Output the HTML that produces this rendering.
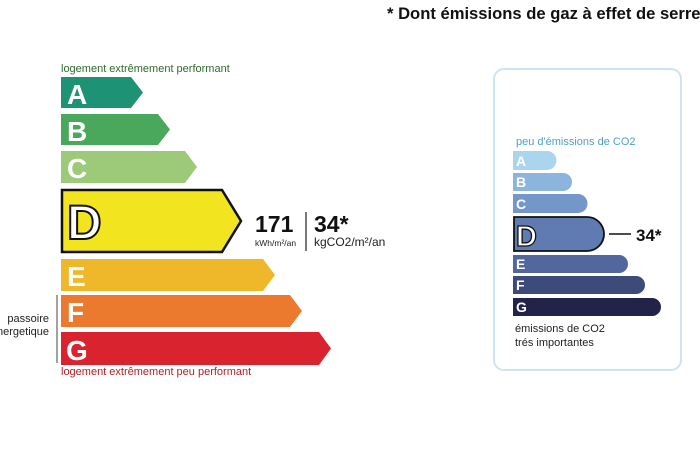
<!DOCTYPE html>
<html><head><meta charset="utf-8"><style>
html,body{margin:0;padding:0;background:#fff;overflow:hidden;}
svg{display:block;font-family:"Liberation Sans",sans-serif;}
</style></head><body>
<svg width="700" height="450" viewBox="0 0 700 450" xmlns="http://www.w3.org/2000/svg">
<text x="387" y="19" font-size="16.6" font-weight="bold" fill="#111">* Dont émissions de gaz à effet de serre</text>

<text x="61" y="72" font-size="11" fill="#2e6b2e">logement extrêmement performant</text>
<polygon points="61,77 131,77 143,92.5 131,108 61,108" fill="#1e9274"/>
<polygon points="61,114 158,114 170,129.5 158,145 61,145" fill="#4aa85c"/>
<polygon points="61,151 185,151 197,167 185,183 61,183" fill="#9cca78"/>
<polygon points="62,190 222,190 241,221 222,252 62,252" fill="#f2e51f" stroke="#111" stroke-width="2.5"/>
<polygon points="61,259 263,259 275,275 263,291 61,291" fill="#efb82a"/>
<polygon points="61,295 290,295 302,311 290,327 61,327" fill="#eb7a2e"/>
<polygon points="61,332 319,332 331,348.5 319,365 61,365" fill="#d9232e"/>
<g font-weight="bold" fill="#fff" font-size="28">
<text x="67" y="104">A</text><text x="67" y="141">B</text><text x="67" y="178">C</text>
<text x="67" y="286">E</text><text x="67" y="322">F</text><text x="66" y="360">G</text>
</g>
<text x="67" y="239" font-size="48" font-weight="bold" fill="#fff" stroke="#111" stroke-width="2">D</text>
<text x="61" y="375" font-size="11" fill="#b0202a">logement extrêmement peu performant</text>

<text x="255" y="232" font-size="23" font-weight="bold" fill="#111">171</text>
<text x="255" y="246" font-size="8.5" fill="#222">kWh/m²/an</text>
<line x1="306" y1="212" x2="306" y2="251" stroke="#222" stroke-width="1.2"/>
<text x="314" y="232" font-size="23" font-weight="bold" fill="#111">34*</text>
<text x="314" y="246" font-size="12" fill="#222">kgCO2/m²/an</text>

<line x1="57" y1="295" x2="57" y2="363" stroke="#444" stroke-width="1"/>
<text x="49" y="322" font-size="11" fill="#222" text-anchor="end">passoire</text>
<text x="49" y="335" font-size="11" fill="#222" text-anchor="end">énergetique</text>

<rect x="494" y="69" width="187" height="301" rx="10" fill="#fff" stroke="#cfe4ef" stroke-width="2"/>
<text x="516" y="145" font-size="11" fill="#4ea0c7">peu d'émissions de CO2</text>
<path d="M513,151 H547 A9.5,9.5 0 0 1 547,170 H513 Z" fill="#a9d5ef"/>
<path d="M513,173 H563 A9,9 0 0 1 563,191 H513 Z" fill="#8cb4dc"/>
<path d="M513,194 H578 A9.5,9.5 0 0 1 578,213 H513 Z" fill="#7397c8"/>
<path d="M514,217 H587 A17,17 0 0 1 587,251 H514 Z" fill="#5f7bb2" stroke="#111" stroke-width="1.8"/>
<path d="M513,255 H619 A9,9 0 0 1 619,273 H513 Z" fill="#52679e"/>
<path d="M513,276 H636 A9,9 0 0 1 636,294 H513 Z" fill="#3d4a7a"/>
<path d="M513,298 H652 A9,9 0 0 1 652,316 H513 Z" fill="#23234a"/>
<g font-weight="bold" fill="#fff" font-size="14">
<text x="516" y="166">A</text><text x="516" y="187">B</text><text x="516" y="209">C</text>
<text x="516" y="269">E</text><text x="516" y="290">F</text><text x="516" y="312">G</text>
</g>
<text x="516" y="246" font-size="29" font-weight="bold" fill="#fff" stroke="#111" stroke-width="1.3">D</text>
<line x1="609" y1="234" x2="631" y2="234" stroke="#111" stroke-width="1.5"/>
<text x="636" y="241" font-size="17" font-weight="bold" fill="#111">34*</text>
<text x="515" y="332" font-size="11" fill="#222">émissions de CO2</text>
<text x="515" y="346" font-size="11" fill="#222">trés importantes</text>
</svg>
</body></html>
